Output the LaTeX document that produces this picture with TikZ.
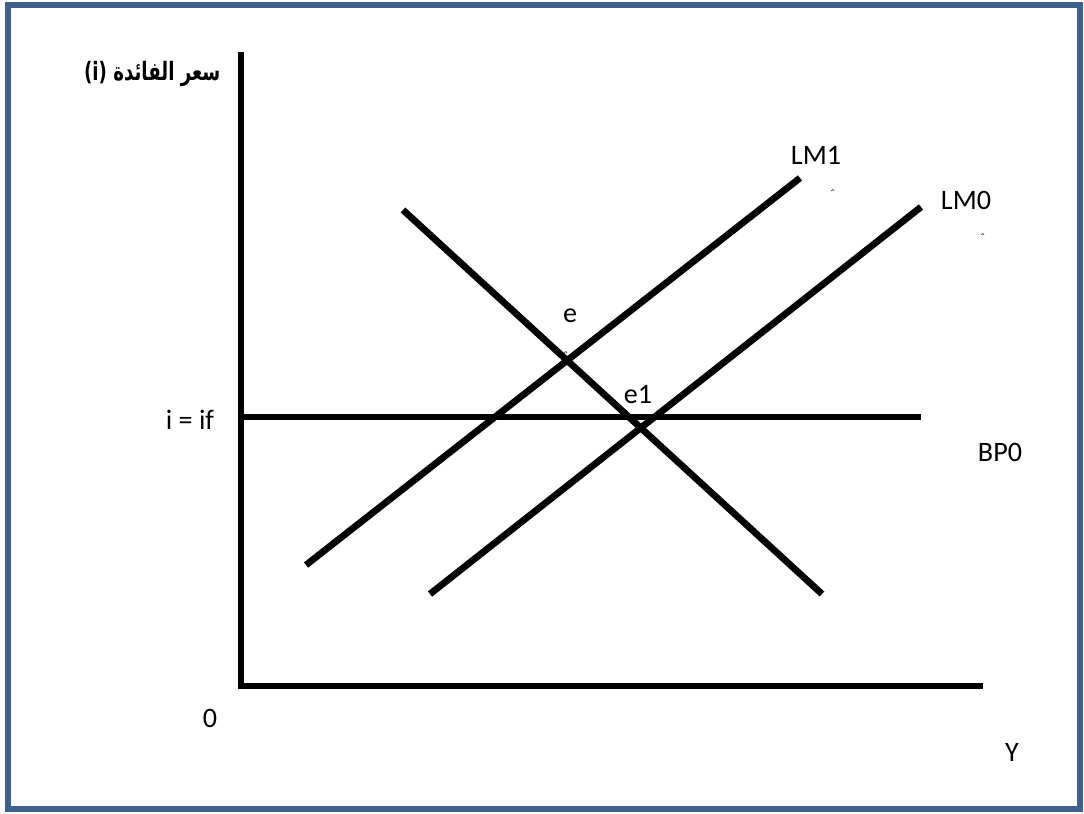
\documentclass[tikz,border=0pt]{standalone}
\usepackage{fontspec}
\setmainfont{Carlito}
\newfontfamily\arabicfont[Script=Arabic]{DejaVu Sans}
\TeXXeTstate=1
\definecolor{marco}{RGB}{62,96,140}
\tikzset{
  curva/.style={line width=4.8pt},
  etiq/.style={font=\fontsize{20}{24}\selectfont},
  marca/.style={line width=0.5pt, gray!60!black}
}
\begin{document}
\begin{tikzpicture}[x=0.025cm, y=-0.025cm]
  \useasboundingbox (0,0) rectangle (1084,814);
  % Marco
  \draw[marco, line width=3.6pt] (8,5) rectangle (1080,809);

  % Ejes
  \coordinate (O) at (241,686);
  \coordinate (top) at (241,52);
  \coordinate (xend) at (983,686);
  \draw[curva] (top) -- (O) -- (xend);
  \node[etiq] (cero) at (210,718) {0};
  \node[etiq] (ylab) at (1012,752) {Y};
  \node[anchor=east, xscale=0.72, font=\fontsize{18}{20}\selectfont] (ilab) at (224,74)
    {\arabicfont\bfseries\beginR سعر الفائدة \beginL(i)\endL\endR};

  % BP0
  \coordinate (bpA) at (241,417);
  \coordinate (bpB) at (921,417);
  \draw[curva] (bpA) -- (bpB);
  \node[etiq] (iif) at (190,420) {i = if};
  \node[etiq] (bp0) at (1000,452) {BP0};

  % IS
  \coordinate (isA) at (403,210);
  \coordinate (isB) at (822,594);
  \draw[curva] (isA) -- (isB);

  % LM1 y LM0
  \coordinate (lm1A) at (306,565);
  \coordinate (lm1B) at (800,178);
  \coordinate (lm0A) at (430,594);
  \coordinate (lm0B) at (921,207);
  \draw[curva] (lm1A) -- (lm1B);
  \draw[curva] (lm0A) -- (lm0B);
  \node[etiq] (lm1) at (816,155) {LM1};
  \node[etiq] (lm0) at (966,200) {LM0};

  % Equilibrios
  \node[etiq] (e) at (570,316) {e};
  \node[etiq] (e1) at (638,395) {e1};

  % Marcas pequeñas
  \draw[marca] (831,191) arc (180:360:1.6);
  \draw[marca] (981,235) arc (180:360:1.6);
  \draw[marca] (564,353) arc (180:360:1.6);
\end{tikzpicture}
\end{document}
